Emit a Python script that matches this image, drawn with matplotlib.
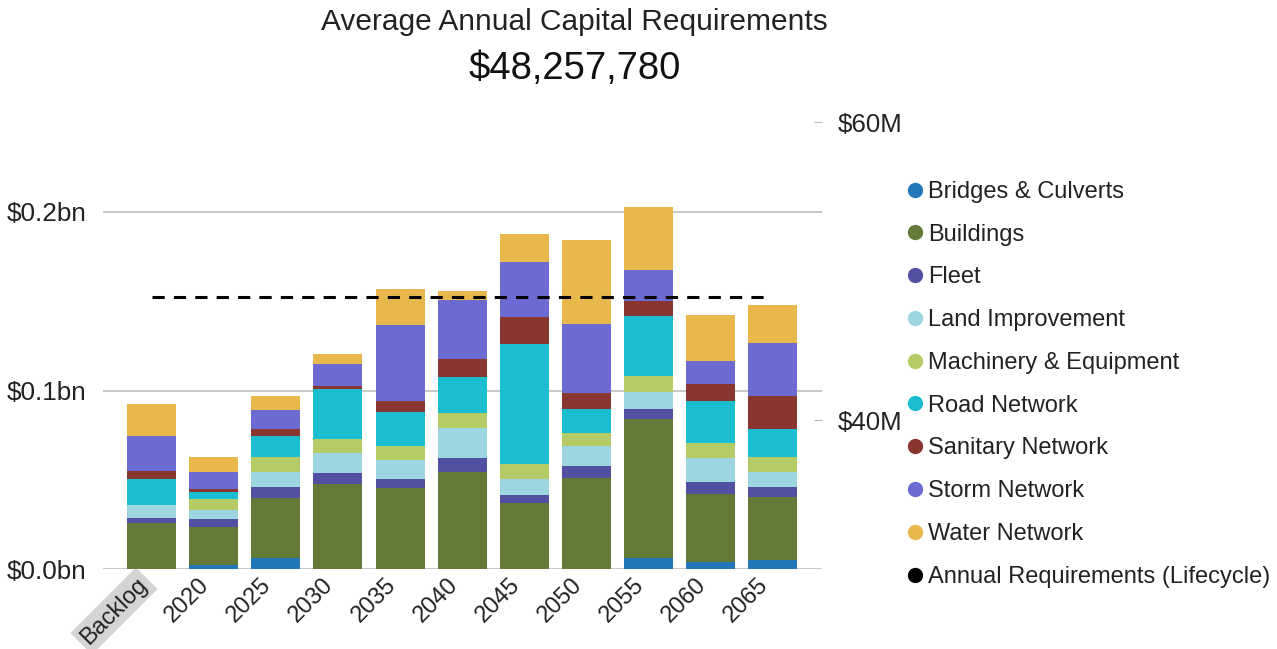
import matplotlib
matplotlib.use("Agg")
import matplotlib.pyplot as plt
from matplotlib.lines import Line2D
import numpy as np

plt.rcParams['font.family'] = ['Liberation Sans', 'DejaVu Sans']

periods = ["Backlog", "2020", "2025", "2030", "2035", "2040",
           "2045", "2050", "2055", "2060", "2065"]

# capital requirement per asset class, $bn
bridges = [0.0, 0.0024, 0.0065, 0.0, 0.0, 0.0, 0.0, 0.0, 0.0065, 0.0043, 0.0052]
buildings = [0.0261, 0.0214, 0.0332, 0.0477, 0.0453, 0.0543, 0.0369, 0.0513, 0.0774, 0.0377, 0.0354]
fleet = [0.0025, 0.0041, 0.0062, 0.0060, 0.0052, 0.0082, 0.0047, 0.0067, 0.0056, 0.0067, 0.0056]
land = [0.0074, 0.0052, 0.0087, 0.0112, 0.0106, 0.0165, 0.0090, 0.0112, 0.0099, 0.0138, 0.0084]
machinery = [0.0, 0.0065, 0.0084, 0.0078, 0.0080, 0.0087, 0.0082, 0.0069, 0.0090, 0.0081, 0.0084]
road = [0.0144, 0.0037, 0.0118, 0.0282, 0.0187, 0.0198, 0.0672, 0.0138, 0.0336, 0.0233, 0.0155]
sanitary = [0.0048, 0.0015, 0.0036, 0.0019, 0.0065, 0.0102, 0.0153, 0.0086, 0.0084, 0.0099, 0.0186]
storm = [0.0196, 0.0097, 0.0108, 0.0121, 0.0424, 0.0330, 0.0306, 0.0386, 0.0172, 0.0129, 0.0293]
water = [0.0177, 0.0084, 0.0078, 0.0056, 0.0200, 0.0050, 0.0157, 0.0470, 0.0354, 0.0254, 0.0214]

annual_req = 48257780  # lifecycle average, $

series = [
    ("Bridges & Culverts", bridges, "#2277b9"),
    ("Buildings", buildings, "#647a38"),
    ("Fleet", fleet, "#5150a3"),
    ("Land Improvement", land, "#9dd6e1"),
    ("Machinery & Equipment", machinery, "#b4cb66"),
    ("Road Network", road, "#1bbdd0"),
    ("Sanitary Network", sanitary, "#8a3630"),
    ("Storm Network", storm, "#6c6bd2"),
    ("Water Network", water, "#e8b84d"),
]

fig = plt.figure(figsize=(12.77, 6.49), dpi=100)
ax = fig.add_axes([0.0807, 0.1228, 0.563, 0.7077])
ax2 = ax.twinx()

x = np.arange(len(periods))
bottom = np.zeros(len(periods))
for name, vals, col in series:
    ax.bar(x, vals, 0.79, bottom=bottom, color=col, zorder=2)
    bottom += np.array(vals)

ax2.plot([x[0], x[-1] - 0.1], [annual_req / 1e6] * 2, color="black",
         lw=2.2, dashes=(4, 3), zorder=3)

ax.set_xlim(-0.78, 10.79)
ax.set_ylim(0, 0.257)
ax.set_yticks([0, 0.1, 0.2])
ax.set_yticklabels(["$0.0bn", "$0.1bn", "$0.2bn"])
ax.grid(axis="y", color="#c8c8c8", lw=1.4, zorder=0)
ax.set_axisbelow(True)
ax.tick_params(axis="y", length=0, pad=12, labelsize=18.8, labelcolor="#222222")

ax.set_xticks(x)
ax.set_xticklabels(periods, rotation=45, ha="right", va="top")
ax.tick_params(axis="x", length=0, pad=3, labelsize=17, labelcolor="#222222")
ax.get_xticklabels()[0].set_bbox(dict(facecolor="#d4d4d4", edgecolor="none", pad=3))

ax2.set_ylim(29.98, 60.81)
ax2.set_yticks([40, 60])
ax2.set_yticklabels(["$40M", "$60M"])
ax2.tick_params(axis="y", length=6, direction="in", color="#bbbbbb", pad=11,
                labelsize=18.6, labelcolor="#222222")

for a in (ax, ax2):
    for s in a.spines.values():
        s.set_visible(False)

fig.text(0.45, 0.987, "Average Annual Capital Requirements", ha="center",
         va="top", fontsize=21.5, color="#222222")
fig.text(0.45, 0.922, "${:,}".format(annual_req), ha="center", va="top",
         fontsize=27.5, color="#111111")

handles = [Line2D([], [], ls="none", marker="o", ms=10, color=c) for _, _, c in series]
labels = [n for n, _, _ in series]
handles.append(Line2D([], [], ls="none", marker="o", ms=10, color="black"))
labels.append("Annual Requirements (Lifecycle)")
fig.legend(handles, labels, loc="upper left", bbox_to_anchor=(0.7035, 0.736),
           frameon=False, fontsize=17, handlelength=0.6, handletextpad=0.25,
           labelspacing=0.88, borderaxespad=0, labelcolor="#222222")

fig.savefig("out.png", dpi=100)
